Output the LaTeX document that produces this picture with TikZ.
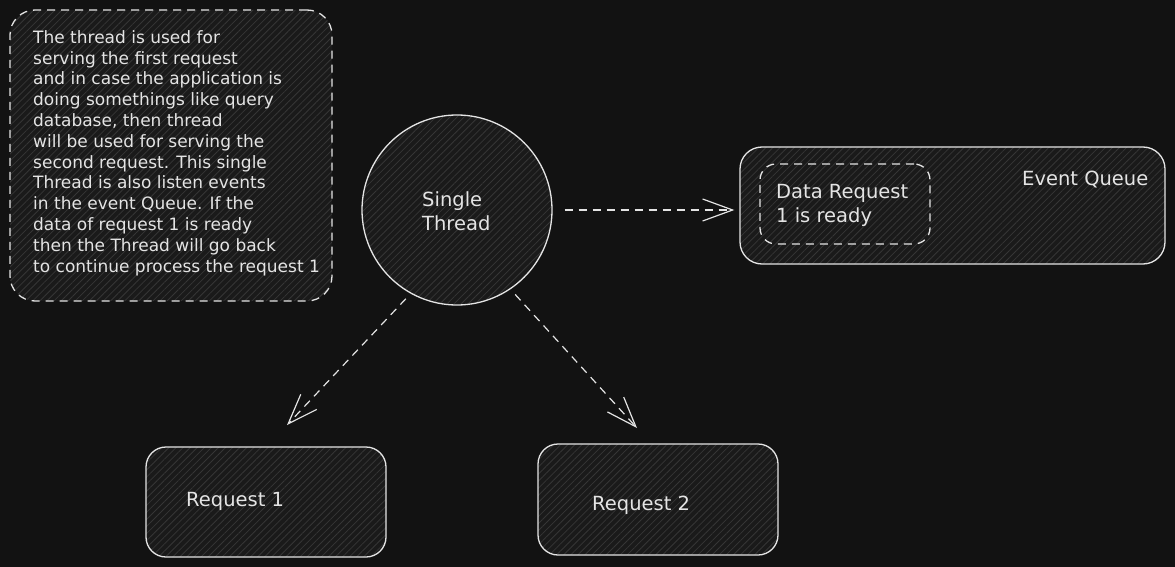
\documentclass[tikz,border=0pt]{standalone}
\usepackage{fontspec}
\setmainfont{DejaVu Sans}
\usetikzlibrary{arrows.meta,patterns.meta}
\definecolor{bg}{HTML}{121212}
\definecolor{ink}{HTML}{E4E4E4}
\definecolor{boxfill}{HTML}{1A1A1A}
\definecolor{hatch}{HTML}{363636}
\begin{document}
\begin{tikzpicture}[x=1pt,y=-1pt,
  hatched/.style={draw=ink, line width=1.3pt, preaction={fill=boxfill},
    pattern={Lines[angle=45,distance=5pt,line width=0.8pt]}, pattern color=hatch},
  dashedline/.style={dash pattern=on 8pt off 6pt},
  box/.style={hatched, rectangle, inner sep=0pt},
  conn/.style={draw=ink, line width=1.2pt, dashedline,
    -{Straight Barb[length=30pt,width=22pt,line width=1.2pt]}},
  bigtext/.style={text=ink, font=\fontsize{19.5}{24}\selectfont, inner sep=0pt, align=left},
  notetext/.style={text=ink, font=\fontsize{17}{20.8}\selectfont, inner sep=0pt, align=left}]
\fill[bg] (0,0) rectangle (1175,567);
\useasboundingbox (0,0) rectangle (1175,567);

% shapes
\node[box, dashedline, rounded corners=25pt, minimum width=322pt, minimum height=291pt] (note) at (171,155.5) {};
\node[hatched, circle, minimum size=190pt, inner sep=0pt] (th) at (457,210) {};
\node[box, rounded corners=22pt, minimum width=425pt, minimum height=117pt] (eq) at (952.5,205.5) {};
\node[box, dashedline, rounded corners=16pt, minimum width=170pt, minimum height=80pt] (dr) at (845,204) {};
\node[box, rounded corners=20pt, minimum width=240pt, minimum height=110pt] (r1) at (266,502) {};
\node[box, rounded corners=20pt, minimum width=240pt, minimum height=111pt] (r2) at (658,499.5) {};

% texts (base anchor = baseline of the last line)
\node[notetext, anchor=base west] (notet) at (33,272) {The thread is used for\\serving the first request\\and in case the application is\\doing somethings like query\\database, then thread\\will be used for serving the\\second request. This single\\Thread is also listen events\\in the event Queue. If the\\data of request 1 is ready\\then the Thread will go back\\to continue process the request 1};
\node[bigtext, anchor=base west] (tht) at (422,230) {Single\\Thread};
\node[bigtext, anchor=base west] (eqt) at (1022,185) {Event Queue};
\node[bigtext, anchor=base west] (drt) at (776,222) {Data Request\\1 is ready};
\node[bigtext, anchor=base west] (r1t) at (186,506) {Request 1};
\node[bigtext, anchor=base west] (r2t) at (592,510) {Request 2};

% connectors
\coordinate (a1) at (287,425);
\coordinate (a2) at (637,428);
\draw[conn, shorten <=12pt, shorten >=5pt] (th.east) -- (eq.west |- th.east);
\draw[conn, shorten <=7pt] (th.241) -- (a1);
\draw[conn, shorten <=7pt] (th.304) -- (a2);
\end{tikzpicture}
\end{document}
